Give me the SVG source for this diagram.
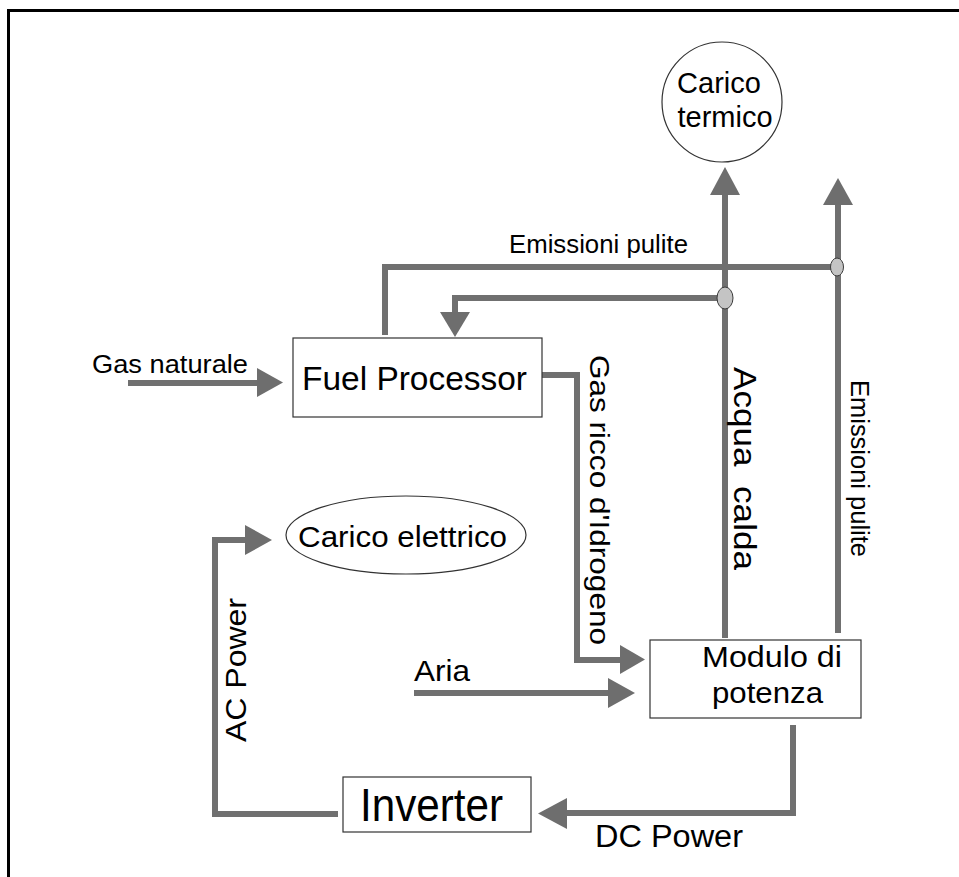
<svg xmlns="http://www.w3.org/2000/svg" width="959" height="877" viewBox="0 0 959 877">
<style>
text{font-family:"Liberation Sans",Arial,sans-serif;fill:#000}
.box{fill:#fff;stroke:#333;stroke-width:1.2}
.ln{fill:none;stroke:#707070;stroke-width:6;stroke-linejoin:miter}
.hd{fill:#6e6e6e}
.jn{fill:#c4c4c4;stroke:#3a3a3a;stroke-width:1}
</style>
<rect width="959" height="877" fill="#fff"/>
<g id="frame">
<path d="M8.5,877 V10.5 H959" fill="none" stroke="#000" stroke-width="3"/>
</g>
<g id="connectors">
<path class="ln" d="M725,638 V192"/>
<polygon class="hd" points="710,195 740,195 725,167"/>
<path class="ln" d="M838,633 V202"/>
<polygon class="hd" points="823,205 853,205 838,178"/>
<path class="ln" d="M385,335 V267 H837"/>
<path class="ln" d="M725,298 H455 V314"/>
<polygon class="hd" points="440,312 470,312 455,337"/>
<path class="ln" d="M128,383 H259"/>
<polygon class="hd" points="257,368 257,397 283,382.5"/>
<path class="ln" d="M542,375 H577 V660 H622"/>
<polygon class="hd" points="620,645 620,674 645,659.5"/>
<path class="ln" d="M414,693 H610"/>
<polygon class="hd" points="608,678 608,708 635,693"/>
<path class="ln" d="M793,725 V813 H565"/>
<polygon class="hd" points="567,798 567,829 538,813.5"/>
<path class="ln" d="M338,814 H215 V540 H247"/>
<polygon class="hd" points="245,525 245,555 272,540"/>
<ellipse class="jn" cx="837" cy="267" rx="6.5" ry="9"/>
<ellipse class="jn" cx="725" cy="298" rx="8" ry="11"/>
<text x="509" y="253" font-size="25" textLength="179" lengthAdjust="spacingAndGlyphs">Emissioni pulite</text>
<text x="92" y="373" font-size="26" textLength="156" lengthAdjust="spacingAndGlyphs">Gas naturale</text>
<text x="590" y="355" font-size="28" textLength="290" lengthAdjust="spacingAndGlyphs" transform="rotate(90 590 355)">Gas ricco d'Idrogeno</text>
<text x="734" y="367" font-size="32" textLength="203" lengthAdjust="spacingAndGlyphs" transform="rotate(90 734 367)" xml:space="preserve">Acqua  calda</text>
<text x="851" y="380" font-size="25" textLength="177" lengthAdjust="spacingAndGlyphs" transform="rotate(90 851 380)">Emissioni pulite</text>
<text x="414" y="681" font-size="30" textLength="56" lengthAdjust="spacingAndGlyphs">Aria</text>
<text x="246" y="742" font-size="30" textLength="144" lengthAdjust="spacingAndGlyphs" transform="rotate(-90 246 742)">AC Power</text>
<text x="595" y="847" font-size="31" textLength="148" lengthAdjust="spacingAndGlyphs">DC Power</text>
</g>
<g id="carico-termico">
<circle cx="722" cy="102" r="60" fill="#fff" stroke="#333" stroke-width="1.2"/>
<text x="719" y="93" font-size="29" text-anchor="middle">Carico</text>
<text x="725" y="127" font-size="29" text-anchor="middle">termico</text>
</g>
<g id="fuel-processor">
<rect class="box" x="293" y="338" width="249" height="79"/>
<text x="302" y="390" font-size="34" textLength="225" lengthAdjust="spacingAndGlyphs">Fuel Processor</text>
</g>
<g id="carico-elettrico">
<ellipse cx="406" cy="535" rx="120" ry="39" fill="#fff" stroke="#333" stroke-width="1.2"/>
<text x="298" y="547" font-size="30" textLength="209" lengthAdjust="spacingAndGlyphs">Carico elettrico</text>
</g>
<g id="modulo-di-potenza">
<rect class="box" x="650" y="640" width="211" height="78"/>
<text x="702" y="667" font-size="30" textLength="140" lengthAdjust="spacingAndGlyphs">Modulo di</text>
<text x="712" y="703" font-size="30" textLength="111" lengthAdjust="spacingAndGlyphs">potenza</text>
</g>
<g id="inverter">
<rect class="box" x="343" y="777" width="188" height="55"/>
<text x="360" y="821" font-size="46" textLength="143" lengthAdjust="spacingAndGlyphs">Inverter</text>
</g>
</svg>
